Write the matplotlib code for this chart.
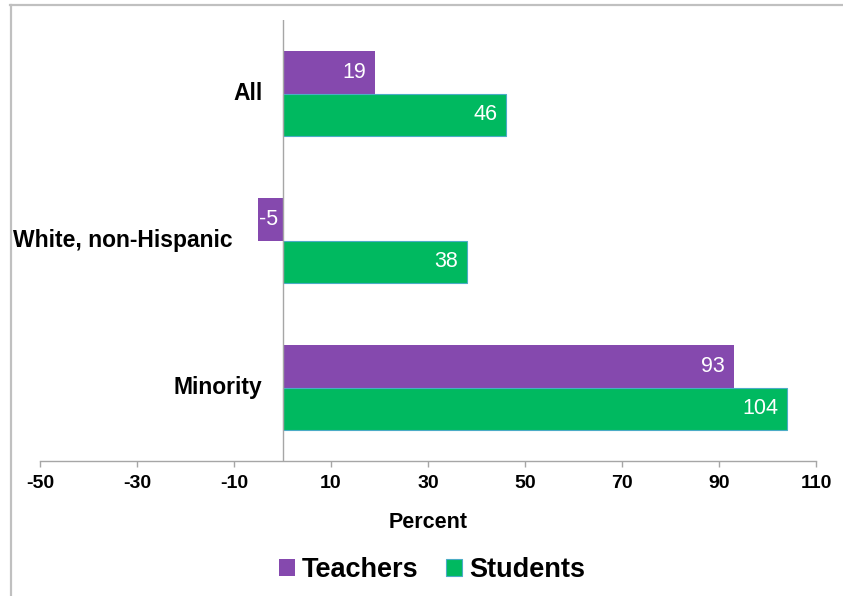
import matplotlib
matplotlib.use("Agg")
import matplotlib.pyplot as plt
from matplotlib.patches import Patch
from matplotlib.lines import Line2D

plt.rcParams['font.family'] = ['Liberation Sans', 'DejaVu Sans']

categories = ["All", "White, non-Hispanic", "Minority"]
series_names = ["Teachers", "Students"]
teachers = [19, -5, 93]
students = [46, 38, 104]
xticks = [-50, -30, -10, 10, 30, 50, 70, 90, 110]
xlabel = "Percent"

purple = "#8549AE"
green = "#00B960"
edge_blue = "#4BACC6"
axis_gray = "#A6A6A6"

W, H = 843, 596
fig = plt.figure(figsize=(W / 100, H / 100), dpi=100)
ax = fig.add_axes([40 / W, 1 - 461 / H, (816 - 40) / W, (461 - 20) / H])

ypos = list(range(len(categories)))
bh = 0.29
off = 0.145
ax.barh([y - off for y in ypos], teachers, height=bh, color=purple, edgecolor='none', zorder=3)
ax.barh([y + off for y in ypos], students, height=bh, color=green, edgecolor=edge_blue, linewidth=0.8, zorder=3)

ax.set_xlim(-50, 110)
ax.set_ylim(len(categories) - 0.5, -0.5)
ax.set_xticks(xticks)
ax.set_xticklabels([str(t) for t in xticks], fontsize=14, fontweight='bold')
ax.tick_params(axis='x', length=4.3, width=1, color=axis_gray, pad=5.5)
ax.set_yticks([])
for s in ['top', 'right', 'left']:
    ax.spines[s].set_visible(False)
ax.spines['bottom'].set_color(axis_gray)
ax.spines['bottom'].set_linewidth(1)
ax.axvline(0, color=axis_gray, linewidth=1, zorder=4)

# data labels
for vals, sign in [(teachers, -off), (students, off)]:
    for y, v in zip(ypos, vals):
        if v >= 0:
            ax.annotate(str(v), xy=(v, y + sign), xytext=(-6, 0), textcoords='offset points',
                        ha='right', va='center', color='white', fontsize=15.5, zorder=5)
        else:
            ax.annotate(str(v), xy=(v, y + sign), xytext=(0.5, 0), textcoords='offset points',
                        ha='left', va='center', color='white', fontsize=15.5, zorder=5)

# category labels
for y, c, t, s in zip(ypos, categories, teachers, students):
    anchor = min(0, t, s)
    dx = -14.5 if anchor >= 0 else -18.5
    ax.annotate(c, xy=(anchor, y), xytext=(dx, 0), textcoords='offset points',
                ha='right', va='center', fontsize=16.5, fontweight='bold', annotation_clip=False)

fig.text(428 / W, 1 - 522 / H, xlabel, ha='center', va='center', fontsize=15.5, fontweight='bold')

handles = [Patch(facecolor=purple, edgecolor='none'),
           Patch(facecolor=green, edgecolor=edge_blue, linewidth=0.8)]
leg = fig.legend(handles, series_names, loc='center', bbox_to_anchor=(432 / W, 1 - 570 / H),
                 ncol=2, frameon=False, prop={'size': 19.5, 'weight': 'bold'},
                 handlelength=0.58, handleheight=0.55, handletextpad=0.27, columnspacing=1.0,
                 borderpad=0, borderaxespad=0)

# outer frame (top and left visible)
fig.add_artist(Line2D([10 / W, 1], [1 - 4.5 / H, 1 - 4.5 / H], transform=fig.transFigure,
                      color='#C0C0C0', linewidth=1.6))
fig.add_artist(Line2D([10.5 / W, 10.5 / W], [0, 1 - 4.5 / H], transform=fig.transFigure,
                      color='#C0C0C0', linewidth=1.6))

fig.savefig("out.png", dpi=100)
